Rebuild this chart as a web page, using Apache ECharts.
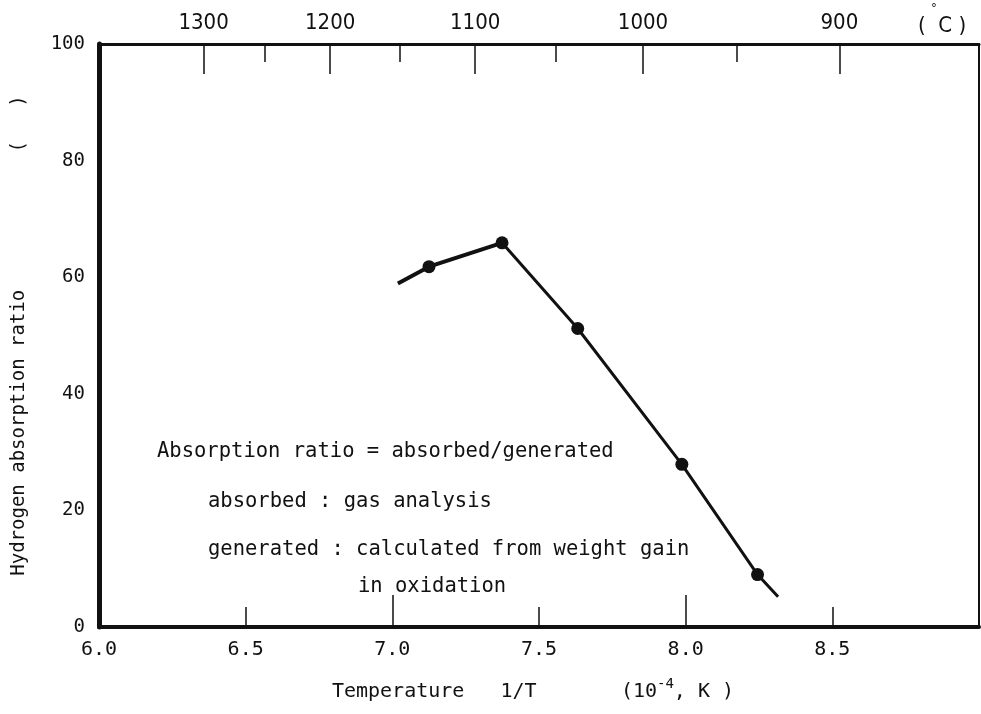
<!DOCTYPE html>
<html><head><meta charset="utf-8">
<script src="https://cdn.jsdelivr.net/npm/echarts@6/dist/echarts.min.js"></script>
<style>html,body{margin:0;padding:0;background:#fff}#c{width:981px;height:714px}</style>
</head><body><div id="c"></div>
<script>
// ---- data ----
const xLabelValues = [6.0, 6.5, 7.0, 7.5, 8.0, 8.5];
const xHalfTicks = [6.5, 7.5, 8.5];
const xWholeTicks = [7.0, 8.0];
const yLabelValues = [0, 20, 40, 60, 80, 100];
const topMajorC = [1300, 1200, 1100, 1000, 900];
const topMinorC = [1250, 1150, 1050, 950];
const pointX = [7.125, 7.374, 7.632, 7.987, 8.245];
const pointY = [61.8, 65.9, 51.2, 27.9, 9.0];
const upperLineX = [7.019, 7.125, 7.374];
const upperLineY = [58.9, 61.8, 65.9];
const lowerLineX = [7.374, 7.632, 7.987, 8.245, 8.315];
const lowerLineY = [65.9, 51.2, 27.9, 9.0, 5.2];
const noteLines = [
  'Absorption ratio = absorbed/generated',
  'absorbed : gas analysis',
  'generated : calculated from weight gain',
  'in oxidation'
];

const toInvT = c => 1e4 / (c + 273.15);
const MONO = '"DejaVu Sans Mono", "Liberation Mono", monospace';
const COND = '"DejaVu Sans Condensed", "Liberation Sans Narrow", "Roboto", sans-serif';
const INK = '#111';

const chart = echarts.init(document.getElementById('c'), null, {renderer: 'canvas'});
const baseX = {type: 'value', min: 6, max: 9, gridIndex: 0, splitLine: {show: false}};

chart.setOption({
  animation: false,
  backgroundColor: '#fff',
  grid: {left: 99, right: 2, top: 44, bottom: 87},
  xAxis: [
    Object.assign({}, baseX, {
      position: 'bottom',
      axisLine: {lineStyle: {color: INK, width: 4}},
      axisTick: {show: true, inside: true, length: 20, customValues: xHalfTicks, lineStyle: {color: INK, width: 1.5}},
      axisLabel: {customValues: xLabelValues, formatter: v => v.toFixed(1), margin: 13,
        fontFamily: MONO, fontSize: 20, color: INK},
      name: 'Temperature   1/T       (10{sup|-4}, K ) ',
      nameLocation: 'middle', nameGap: 50,
      nameTextStyle: {fontFamily: MONO, fontSize: 20, color: INK,
        rich: {sup: {fontFamily: MONO, fontSize: 14, color: INK, padding: [0, 0, 16, 0]}}}
    }),
    Object.assign({}, baseX, {
      position: 'bottom',
      axisLine: {show: false},
      axisTick: {show: true, inside: true, length: 32, customValues: xWholeTicks, lineStyle: {color: INK, width: 1.5}},
      axisLabel: {show: false}
    }),
    Object.assign({}, baseX, {
      position: 'top',
      axisLine: {lineStyle: {color: INK, width: 3}},
      axisTick: {show: true, inside: true, length: 30, customValues: topMajorC.map(toInvT), lineStyle: {color: INK, width: 1.5}},
      axisLabel: {customValues: topMajorC.map(toInvT), formatter: v => String(Math.round(1e4 / v - 273.15)),
        margin: 10, fontFamily: COND, fontSize: 22, color: INK}
    }),
    Object.assign({}, baseX, {
      position: 'top',
      axisLine: {show: false},
      axisTick: {show: true, inside: true, length: 18, customValues: topMinorC.map(toInvT), lineStyle: {color: INK, width: 1.5}},
      axisLabel: {show: false}
    })
  ],
  yAxis: [
    {
      type: 'value', min: 0, max: 100, interval: 20, position: 'left',
      splitLine: {show: false},
      axisLine: {show: true, lineStyle: {color: INK, width: 5}},
      axisTick: {show: false},
      axisLabel: {customValues: yLabelValues, margin: 14, fontFamily: MONO, fontSize: 19, color: INK},
      name: 'Hydrogen absorption ratio            (   )',
      nameLocation: 'middle', nameGap: 70, nameRotate: 90,
      nameTextStyle: {fontFamily: MONO, fontSize: 19, color: INK}
    },
    {
      type: 'value', min: 0, max: 100, position: 'right',
      splitLine: {show: false},
      axisLine: {show: true, lineStyle: {color: INK, width: 2}},
      axisTick: {show: false},
      axisLabel: {show: false}
    }
  ],
  graphic: [
    {type: 'text', left: 918, top: 15, style: {text: '(  C )', font: '22px ' + COND, fill: INK}},
    {type: 'text', left: 931, top: 2, style: {text: '°', font: '13px ' + COND, fill: INK}},
    {type: 'text', left: 157, top: 441, style: {text: noteLines[0], font: '20.5px ' + MONO, fill: INK}},
    {type: 'text', left: 208, top: 491, style: {text: noteLines[1], font: '20.5px ' + MONO, fill: INK}},
    {type: 'text', left: 208, top: 539, style: {text: noteLines[2], font: '20.5px ' + MONO, fill: INK}},
    {type: 'text', left: 358, top: 576, style: {text: noteLines[3], font: '20.5px ' + MONO, fill: INK}}
  ],
  series: [
    {
      type: 'line', xAxisIndex: 0, yAxisIndex: 0,
      data: upperLineX.map((x, i) => [x, upperLineY[i]]),
      symbol: 'none', lineStyle: {color: INK, width: 4}, z: 3
    },
    {
      type: 'line', xAxisIndex: 0, yAxisIndex: 0,
      data: lowerLineX.map((x, i) => [x, lowerLineY[i]]),
      symbol: 'none', lineStyle: {color: INK, width: 3}, z: 3
    },
    {
      type: 'scatter', xAxisIndex: 0, yAxisIndex: 0,
      data: pointX.map((x, i) => [x, pointY[i]]),
      symbol: 'circle', symbolSize: 13, itemStyle: {color: INK, opacity: 1}, z: 4
    }
  ]
});
</script></body></html>
